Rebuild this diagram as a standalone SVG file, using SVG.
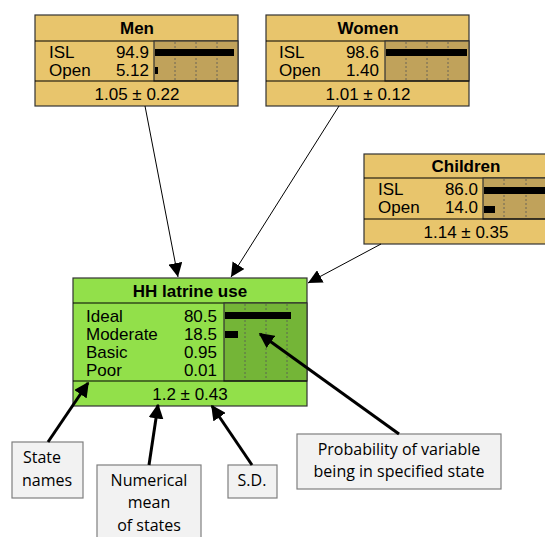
<svg xmlns="http://www.w3.org/2000/svg" width="545" height="537" viewBox="0 0 545 537">
<defs>
<style>
.nb{fill:#E8C56C;stroke:#333;stroke-width:1.2}
.nc{fill:#C0A25B;stroke:#333;stroke-width:1.2}
.gb{fill:#92E04A;stroke:#333;stroke-width:1.2}
.gc{fill:#74B537;stroke:#333;stroke-width:1.2}
.dash{stroke:#555;stroke-width:0.8;stroke-dasharray:2,2}
.t{font-family:"Liberation Sans",Arial,sans-serif;font-size:17px;fill:#000}
.tt{font-family:"Liberation Sans",Arial,sans-serif;font-size:17px;font-weight:bold;fill:#000}
.r{text-anchor:end}
.m{text-anchor:middle}
.bar{fill:#000}
.ab{fill:#F2F2F2;stroke:#7F7F7F;stroke-width:1.2}
.at{font-family:"Open Sans","Noto Sans",sans-serif;font-size:16px;fill:#000;text-anchor:middle}
.thin{stroke:#000;stroke-width:1;fill:none}
.thick{stroke:#000;stroke-width:3;fill:none}
</style>
<marker id="ah" viewBox="0 0 10 10" refX="10" refY="5" markerWidth="14" markerHeight="14" markerUnits="userSpaceOnUse" orient="auto">
<path d="M0,0 L10,5 L0,10 z" fill="#000"/>
</marker>
<marker id="ahb" viewBox="0 0 10 10" refX="9" refY="5" markerWidth="5" markerHeight="5" orient="auto">
<path d="M0,0 L10,5 L0,10 z" fill="#000"/>
</marker>
</defs>

<g id="men">
<rect class="nb" x="35" y="15" width="203" height="91"/>
<line class="thin" x1="35" y1="41" x2="238" y2="41" stroke="#333"/>
<rect class="nc" x="154" y="41" width="84" height="40"/>
<line class="thin" x1="35" y1="81" x2="238" y2="81" stroke="#333"/>
<line class="dash" x1="175" y1="42" x2="175" y2="80"/>
<line class="dash" x1="196" y1="42" x2="196" y2="80"/>
<line class="dash" x1="217" y1="42" x2="217" y2="80"/>
<rect class="bar" x="155" y="49" width="79" height="7"/>
<rect class="bar" x="155" y="67" width="3" height="7"/>
<text class="tt m" x="137" y="34">Men</text>
<text class="t" x="49" y="58">ISL</text>
<text class="t r" x="149" y="58">94.9</text>
<text class="t" x="49" y="76">Open</text>
<text class="t r" x="149" y="76">5.12</text>
<text class="t m" x="137" y="100">1.05 ± 0.22</text>
</g>

<g id="women">
<rect class="nb" x="266" y="15" width="203" height="91"/>
<line class="thin" x1="266" y1="41" x2="469" y2="41" stroke="#333"/>
<rect class="nc" x="385" y="41" width="84" height="40"/>
<line class="thin" x1="266" y1="81" x2="469" y2="81" stroke="#333"/>
<line class="dash" x1="406" y1="42" x2="406" y2="80"/>
<line class="dash" x1="427" y1="42" x2="427" y2="80"/>
<line class="dash" x1="448" y1="42" x2="448" y2="80"/>
<rect class="bar" x="386" y="49" width="81" height="7"/>
<text class="tt m" x="368" y="34">Women</text>
<text class="t" x="279" y="58">ISL</text>
<text class="t r" x="379" y="58">98.6</text>
<text class="t" x="279" y="76">Open</text>
<text class="t r" x="379" y="76">1.40</text>
<text class="t m" x="368" y="100">1.01 ± 0.12</text>
</g>

<g id="children">
<rect class="nb" x="364" y="154" width="203" height="90"/>
<line class="thin" x1="364" y1="178" x2="567" y2="178" stroke="#333"/>
<rect class="nc" x="483" y="178" width="84" height="41"/>
<line class="thin" x1="364" y1="219" x2="567" y2="219" stroke="#333"/>
<line class="dash" x1="504" y1="179" x2="504" y2="218"/>
<line class="dash" x1="526" y1="179" x2="526" y2="218"/>
<rect class="bar" x="484" y="187" width="72" height="7"/>
<rect class="bar" x="484" y="206" width="11" height="7"/>
<text class="tt m" x="466" y="172">Children</text>
<text class="t" x="378" y="195">ISL</text>
<text class="t r" x="478" y="195">86.0</text>
<text class="t" x="378" y="213">Open</text>
<text class="t r" x="478" y="213">14.0</text>
<text class="t m" x="466" y="238">1.14 ± 0.35</text>
</g>

<g id="hh">
<rect class="gb" x="73" y="278" width="234" height="128"/>
<line class="thin" x1="73" y1="303" x2="307" y2="303" stroke="#333"/>
<rect class="gc" x="224" y="303" width="83" height="78"/>
<line class="thin" x1="73" y1="381" x2="307" y2="381" stroke="#333"/>
<line class="dash" x1="245" y1="304" x2="245" y2="380"/>
<line class="dash" x1="266" y1="304" x2="266" y2="380"/>
<line class="dash" x1="287" y1="304" x2="287" y2="380"/>
<rect class="bar" x="225" y="312" width="66" height="7"/>
<rect class="bar" x="225" y="331" width="13" height="7"/>
<text class="tt m" x="190" y="297">HH latrine use</text>
<text class="t" x="86" y="322">Ideal</text>
<text class="t r" x="217" y="322">80.5</text>
<text class="t" x="86" y="340">Moderate</text>
<text class="t r" x="217" y="340">18.5</text>
<text class="t" x="86" y="358">Basic</text>
<text class="t r" x="217" y="358">0.95</text>
<text class="t" x="86" y="376">Poor</text>
<text class="t r" x="217" y="376">0.01</text>
<text class="t m" x="190" y="400">1.2 ± 0.43</text>
</g>

<g id="lbl-state">
<rect class="ab" x="12" y="442" width="71" height="56"/>
<text class="at" x="42" y="463">State</text>
<text class="at" x="47" y="486">names</text>
</g>
<g id="lbl-mean">
<rect class="ab" x="97" y="465" width="104" height="80"/>
<text class="at" x="149" y="486">Numerical</text>
<text class="at" x="149" y="508">mean</text>
<text class="at" x="149" y="531">of states</text>
</g>
<g id="lbl-sd">
<rect class="ab" x="228" y="465" width="49" height="33"/>
<text class="at" x="252" y="486">S.D.</text>
</g>
<g id="lbl-prob">
<rect class="ab" x="297" y="434" width="204" height="55"/>
<text class="at" x="399" y="455">Probability of variable</text>
<text class="at" x="399" y="477">being in specified state</text>
</g>

<g id="connectors">
<line class="thin" x1="145" y1="106" x2="178" y2="277" marker-end="url(#ah)"/>
<line class="thin" x1="339" y1="106" x2="231" y2="277" marker-end="url(#ah)"/>
<line class="thin" x1="381" y1="244" x2="308" y2="283" marker-end="url(#ah)"/>
<line class="thick" x1="48" y1="442" x2="88" y2="383" marker-end="url(#ahb)"/>
<line class="thick" x1="149" y1="465" x2="158" y2="405" marker-end="url(#ahb)"/>
<line class="thick" x1="252" y1="465" x2="212" y2="406" marker-end="url(#ahb)"/>
<line class="thick" x1="399" y1="434" x2="260" y2="334" marker-end="url(#ahb)"/>
</g>
</svg>
